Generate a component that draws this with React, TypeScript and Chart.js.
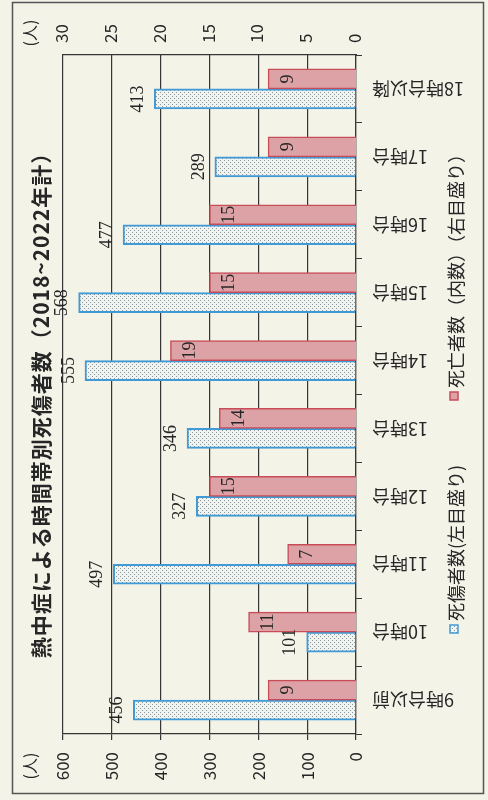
import React, { useEffect, useRef } from 'react';
import { Chart, registerables } from 'chart.js';

Chart.register(...registerables);

// ---- data ----
const categories = ['18時台以降', '17時台', '16時台', '15時台', '14時台', '13時台', '12時台', '11時台', '10時台', '9時台以前'];
const casualties = [413, 289, 477, 568, 555, 346, 327, 497, 101, 456];
const deaths = [9, 9, 15, 15, 19, 14, 15, 7, 11, 9];
const leftAxisMax = 600;
const leftAxisStep = 100;
const rightAxisMax = 30;
const rightAxisStep = 5;
const titleText = '熱中症による時間帯別死傷者数（2018~2022年計）';
const legendCasualties = '死傷者数(左目盛り)';
const legendDeaths = '死亡者数（内数）（右目盛り）';
const unitLabel = '(人)';

// ---- styles ----
const BG = '#f4f3e8';
const GRID = '#363636';
const TEXT = '#262626';
const RED_FILL = '#dca2a6';
const RED_LINE = '#c84c58';
const BLUE_LINE = '#3f9ad6';
const JP = "'Noto Sans CJK JP', sans-serif";
const SERIF = "'Liberation Serif', serif";
const CAT_FONT_SIZE = 18;

function makeDotPattern(): CanvasPattern | string {
  const c = document.createElement('canvas');
  c.width = 4;
  c.height = 4;
  const g = c.getContext('2d');
  if (!g) return '#e4e8e8';
  g.fillStyle = '#f1f3ef';
  g.fillRect(0, 0, 4, 4);
  g.fillStyle = '#8a96a0';
  g.fillRect(0, 0, 1, 1);
  g.fillRect(2, 2, 1, 1);
  return g.createPattern(c, 'repeat') || '#e4e8e8';
}

function drawRotated(
  ctx: CanvasRenderingContext2D,
  text: string,
  x: number,
  y: number,
  align: CanvasTextAlign,
  font: string,
  angle = -Math.PI / 2,
  spacing = '0px'
) {
  ctx.save();
  ctx.translate(x, y);
  ctx.rotate(angle);
  ctx.font = font;
  (ctx as any).letterSpacing = spacing;
  ctx.fillStyle = TEXT;
  ctx.textAlign = align;
  ctx.textBaseline = 'middle';
  ctx.fillText(text, 0, 0);
  ctx.restore();
}

export default function App() {
  const ref = useRef<HTMLCanvasElement>(null);

  useEffect(() => {
    const canvas = ref.current;
    if (!canvas) return;
    const pattern = makeDotPattern();

    const decor = {
      id: 'decor',
      beforeDraw(chart: any) {
        const { ctx, width, height } = chart;
        ctx.save();
        ctx.fillStyle = BG;
        ctx.fillRect(0, 0, width, height);
        ctx.strokeStyle = '#555';
        ctx.lineWidth = 1.5;
        ctx.strokeRect(12.5, 2.5, 471, 791);
        ctx.restore();
      },
      afterDatasetsDraw(chart: any) {
        const ctx = chart.ctx as CanvasRenderingContext2D;
        const labelFont = `normal 18px ${SERIF}`;
        chart.getDatasetMeta(0).data.forEach((bar: any, i: number) => {
          const { x, y } = bar.getProps(['x', 'y'], true);
          drawRotated(ctx, String(chart.data.datasets[0].data[i]), x + 20, y, 'center', labelFont);
        });
        chart.getDatasetMeta(1).data.forEach((bar: any, i: number) => {
          const { x, y } = bar.getProps(['x', 'y'], true);
          drawRotated(ctx, String(chart.data.datasets[1].data[i]), x - 16, y, 'center', labelFont);
        });
      },
      afterDraw(chart: any) {
        const ctx = chart.ctx as CanvasRenderingContext2D;
        // category labels (upside down, as in the scanned reference)
        const yScale = chart.scales.y;
        const catFont = `normal ${CAT_FONT_SIZE}px ${JP}`;
        yScale.ticks.forEach((_t: any, i: number) => {
          const py = yScale.getPixelForTick(i);
          drawRotated(ctx, String(yScale.getLabelForValue(i)), yScale.left + 16, py, 'right', catFont, Math.PI);
        });
        // title
        drawRotated(ctx, titleText, 41, 400, 'center', `bold 21px ${JP}`, -Math.PI / 2, '1px');
        // units
        drawRotated(ctx, unitLabel, 30, 766, 'center', `normal 16px ${JP}`);
        drawRotated(ctx, unitLabel, 30, 33, 'center', `normal 16px ${JP}`);
        // legend
        const lf = `normal 18px ${JP}`;
        ctx.save();
        ctx.fillStyle = pattern as any;
        ctx.fillRect(450, 625, 8, 8);
        ctx.strokeStyle = BLUE_LINE;
        ctx.lineWidth = 1.5;
        ctx.strokeRect(450, 625, 8, 8);
        ctx.fillStyle = RED_FILL;
        ctx.fillRect(450, 392, 8, 8);
        ctx.strokeStyle = RED_LINE;
        ctx.strokeRect(450, 392, 8, 8);
        ctx.restore();
        drawRotated(ctx, legendCasualties, 456, 621, 'left', lf);
        drawRotated(ctx, legendDeaths, 456, 388, 'left', lf);
      },
    };

    const chart = new Chart(canvas, {
      type: 'bar',
      data: {
        labels: categories,
        datasets: [
          {
            label: legendDeaths,
            data: deaths,
            xAxisID: 'x2',
            backgroundColor: RED_FILL,
            borderColor: RED_LINE,
            borderWidth: 1.5,
            barThickness: 20,
          },
          {
            label: legendCasualties,
            data: casualties,
            xAxisID: 'x',
            backgroundColor: pattern as any,
            borderColor: BLUE_LINE,
            borderWidth: 2,
            barThickness: 20,
          },
        ],
      },
      options: {
        indexAxis: 'y',
        responsive: false,
        animation: false,
        layout: { padding: { left: 63, right: 0, top: 0, bottom: 0 } },
        plugins: {
          legend: { display: false },
          title: { display: false },
          tooltip: { enabled: false },
        },
        scales: {
          x: {
            type: 'linear',
            position: 'bottom',
            reverse: true,
            min: 0,
            max: leftAxisMax,
            ticks: {
              stepSize: leftAxisStep,
              minRotation: 90,
              maxRotation: 90,
              padding: 12,
              color: TEXT,
              font: { family: JP, size: 17 },
            },
            grid: { color: GRID, lineWidth: 1.2, tickLength: 6 },
            border: { color: GRID, width: 1.2 },
            afterFit: (s: any) => { s.height = 66; },
          },
          x2: {
            type: 'linear',
            position: 'top',
            reverse: true,
            min: 0,
            max: rightAxisMax,
            ticks: {
              stepSize: rightAxisStep,
              minRotation: 90,
              maxRotation: 90,
              padding: 12,
              labelOffset: 19,
              color: TEXT,
              font: { family: JP, size: 17 },
            },
            grid: { display: false, drawTicks: false, tickLength: 0 },
            border: { display: true, color: GRID, width: 1.2 },
            afterFit: (s: any) => { s.height = 55; },
          },
          y: {
            type: 'category',
            position: 'right',
            grid: { offset: true, drawOnChartArea: false, tickLength: 6, color: GRID },
            border: { color: GRID, width: 1.2 },
            ticks: { display: false },
            afterFit: (s: any) => { s.width = 132; },
          },
        },
      } as any,
      plugins: [decor],
    });
    return () => chart.destroy();
  }, []);

  return (
    <div style={{ position: 'absolute', left: 0, top: 0, width: 488, height: 800, background: BG }}>
      <canvas ref={ref} width={488} height={800} style={{ display: 'block', width: 488, height: 800 }} />
    </div>
  );
}
